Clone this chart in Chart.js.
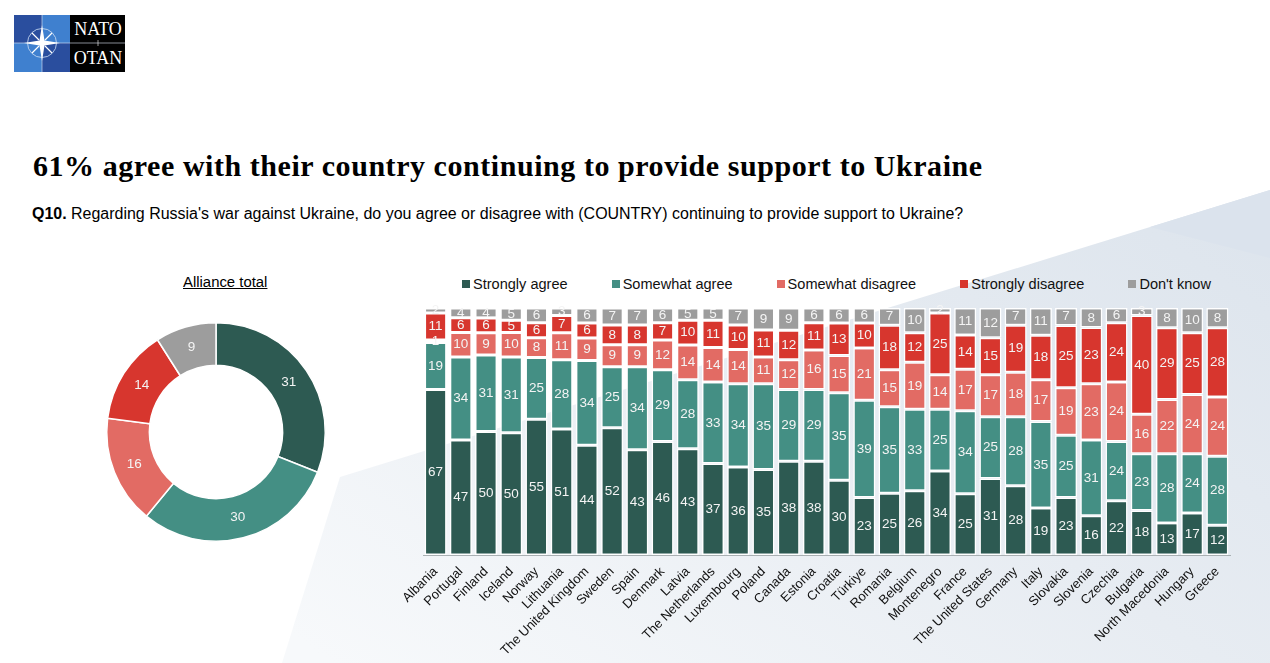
<!DOCTYPE html>
<html>
<head>
<meta charset="utf-8">
<script src="https://cdn.jsdelivr.net/npm/chart.js@4"></script>
<style>
  html, body { margin: 0; padding: 0; }
  body { width: 1270px; height: 663px; overflow: hidden; position: relative; background: #fff; font-family: "Liberation Sans", Arial, sans-serif; color: #000; }
  .bg1 { position: absolute; inset: 0; clip-path: polygon(1270px 190px, 340px 477px, 282px 663px, 1270px 663px); background: linear-gradient(215deg, #dbe3ec 8%, #e7ecf2 45%, #f7f9fb 85%); }
  .bg3 { position: absolute; inset: 0; clip-path: polygon(1270px 190px, 1150px 227px, 1270px 258px); background: #dbe3ed; }
  #logo { position: absolute; left: 14px; top: 15px; width: 111px; height: 57px; }
  h1 { position: absolute; left: 33px; top: 149px; margin: 0; font: bold 30px "Liberation Serif", serif; letter-spacing: 0.55px; white-space: nowrap; }
  #question { position: absolute; left: 32px; top: 205px; font-size: 15.97px; white-space: nowrap; }
  #donutTitle { position: absolute; left: 183px; top: 274px; font-size: 14.9px; text-decoration: underline; white-space: nowrap; }
  #donutWrap { position: absolute; left: 96px; top: 312px; width: 240px; height: 240px; }
  #barWrap { position: absolute; left: 400px; top: 300px; width: 870px; height: 363px; }
  #legend { position: absolute; left: 462px; top: 276px; display: flex; gap: 44px; font-size: 14.55px; color: #111; white-space: nowrap; }
  #legend span { display: flex; align-items: center; gap: 3px; }
  #legend i { display: block; width: 8px; height: 8px; }
</style>
</head>
<body>
<div class="bg1"></div>
<div class="bg3"></div>
<svg id="logo" viewBox="0 0 111 57">
  <rect x="0" y="0" width="28" height="28" fill="#2a4e9e"/>
  <rect x="28" y="0" width="28" height="28" fill="#3f80cf"/>
  <rect x="0" y="28" width="28" height="29" fill="#3f80cf"/>
  <rect x="28" y="28" width="28" height="29" fill="#2a4e9e"/>
  <rect x="56" y="0" width="55" height="57" fill="#000"/>
  <path d="M0 28 H111 M28 0 V57" stroke="#dfe8f6" stroke-width="0.6"/>
  <circle cx="28" cy="28" r="14.5" fill="none" stroke="#cfe0f5" stroke-width="0.8"/>
  <path d="M28 10 L30.5 25.5 L46 28 L30.5 30.5 L28 46 L25.5 30.5 L10 28 L25.5 25.5 Z" fill="#fff"/>
  <path d="M18 18 L25 25 M38 18 L31 25 M18 38 L25 31 M38 38 L31 31" stroke="#fff" stroke-width="1.2"/>
  <text x="84" y="20" text-anchor="middle" fill="#fff" font-family="Liberation Serif" font-size="18">NATO</text>
  <text x="84" y="49" text-anchor="middle" fill="#fff" font-family="Liberation Serif" font-size="18">OTAN</text>
  <path d="M84 25 V31" stroke="#fff" stroke-width="0.6"/>
</svg>
<h1>61% agree with their country continuing to provide support to Ukraine</h1>
<div id="question"><b>Q10.</b> Regarding Russia's war against Ukraine, do you agree or disagree with (COUNTRY) continuing to provide support to Ukraine?</div>
<div id="donutTitle">Alliance total</div>
<div id="donutWrap"><canvas id="donutChart"></canvas></div>
<div id="legend"></div>
<div id="barWrap"><canvas id="barChart"></canvas></div>
<script>
var answers = ['Strongly agree', 'Somewhat agree', 'Somewhat disagree', 'Strongly disagree', "Don't know"];
var answerColors = ['#2d5a52', '#448f84', '#e26b64', '#d7362e', '#9d9d9d'];
var allianceTotal = [31, 30, 16, 14, 9];

var countries = ['Albania', 'Portugal', 'Finland', 'Iceland', 'Norway', 'Lithuania', 'The United Kingdom', 'Sweden',
  'Spain', 'Denmark', 'Latvia', 'The Netherlands', 'Luxembourg', 'Poland', 'Canada', 'Estonia', 'Croatia', 'Türkiye',
  'Romania', 'Belgium', 'Montenegro', 'France', 'The United States', 'Germany', 'Italy', 'Slovakia', 'Slovenia',
  'Czechia', 'Bulgaria', 'North Macedonia', 'Hungary', 'Greece'];
var stronglyAgree = [67, 47, 50, 50, 55, 51, 44, 52, 43, 46, 43, 37, 36, 35, 38, 38, 30, 23, 25, 26, 34, 25, 31, 28, 19, 23, 16, 22, 18, 13, 17, 12];
var somewhatAgree = [19, 34, 31, 31, 25, 28, 34, 25, 34, 29, 28, 33, 34, 35, 29, 29, 35, 39, 35, 33, 25, 34, 25, 28, 35, 25, 31, 24, 23, 28, 24, 28];
var somewhatDisagree = [1, 10, 9, 10, 8, 11, 9, 9, 9, 12, 14, 14, 14, 11, 12, 16, 15, 21, 15, 19, 14, 17, 17, 18, 17, 19, 23, 24, 16, 22, 24, 24];
var stronglyDisagree = [11, 6, 6, 5, 6, 7, 6, 8, 8, 7, 10, 11, 10, 11, 12, 11, 13, 10, 18, 12, 25, 14, 15, 19, 18, 25, 23, 24, 40, 29, 25, 28];
var dontKnow = [2, 4, 4, 5, 6, 3, 6, 7, 7, 6, 5, 5, 7, 9, 9, 6, 6, 6, 7, 10, 2, 11, 12, 7, 11, 7, 8, 6, 3, 8, 10, 8];

var seriesValues = [stronglyAgree, somewhatAgree, somewhatDisagree, stronglyDisagree, dontKnow];

Chart.defaults.font.family = '"Liberation Sans", Arial, sans-serif';

// draws the number in the middle of each segment
var valueLabels = {
  id: 'valueLabels',
  afterDatasetsDraw: function (chart, args, opts) {
    var ctx = chart.ctx;
    ctx.save();
    ctx.font = opts.size + 'px "Liberation Sans", Arial, sans-serif';
    ctx.fillStyle = '#f4f4f4';
    ctx.textAlign = 'center';
    ctx.textBaseline = 'middle';
    chart.data.datasets.forEach(function (ds, i) {
      chart.getDatasetMeta(i).data.forEach(function (el, j) {
        var pos = el.getCenterPoint();
        var raw = ds.rawValues ? ds.rawValues[j] : ds.data[j];
        ctx.fillText(raw, pos.x, pos.y);
      });
    });
    ctx.restore();
  }
};

new Chart(document.getElementById('donutChart'), {
  type: 'doughnut',
  data: {
    labels: answers,
    datasets: [{ data: allianceTotal, backgroundColor: answerColors, borderColor: '#fff', borderWidth: 1.5 }]
  },
  options: {
    responsive: true,
    maintainAspectRatio: false,
    animation: false,
    cutout: '61%',
    layout: { padding: 10 },
    plugins: { legend: { display: false }, tooltip: { enabled: false }, valueLabels: { size: 13.5 } }
  },
  plugins: [valueLabels]
});

// legend sits above the bars with the tight marker spacing of the original
answers.forEach(function (name, i) {
  var item = document.createElement('span');
  var box = document.createElement('i');
  box.style.background = answerColors[i];
  item.appendChild(box);
  item.appendChild(document.createTextNode(name));
  document.getElementById('legend').appendChild(item);
});

// the columns are 100% stacked, rows that round to 99 or 101 still fill the height
var rowTotals = countries.map(function (c, j) {
  return seriesValues.reduce(function (sum, s) { return sum + s[j]; }, 0);
});

new Chart(document.getElementById('barChart'), {
  type: 'bar',
  data: {
    labels: countries,
    datasets: answers.map(function (name, i) {
      return {
        label: name,
        rawValues: seriesValues[i],
        data: seriesValues[i].map(function (v, j) { return v / rowTotals[j] * 100; }),
        backgroundColor: answerColors[i],
        borderColor: '#fff',
        borderWidth: 1.5,
        borderSkipped: false,
        categoryPercentage: 1,
        barPercentage: 0.875
      };
    })
  },
  options: {
    responsive: true,
    maintainAspectRatio: false,
    animation: false,
    layout: { padding: { left: 23, right: 40, top: 8, bottom: 0 } },
    scales: {
      x: {
        stacked: true,
        grid: { display: false, drawTicks: false },
        border: { color: '#a9b0b3', width: 1 },
        ticks: { color: '#111', font: { size: 13 }, maxRotation: 45, minRotation: 45, autoSkip: false, padding: 9 },
        // keep the plot box fixed, long rotated labels must not push it in
        afterFit: function (scale) {
          scale.height = 108;
          scale.paddingLeft = 0;
          scale.paddingRight = 0;
        }
      },
      y: { stacked: true, min: 0, max: 100, display: false }
    },
    plugins: {
      legend: { display: false },
      tooltip: { enabled: false },
      valueLabels: { size: 13.5 }
    }
  },
  plugins: [valueLabels]
});
</script>
</body>
</html>
